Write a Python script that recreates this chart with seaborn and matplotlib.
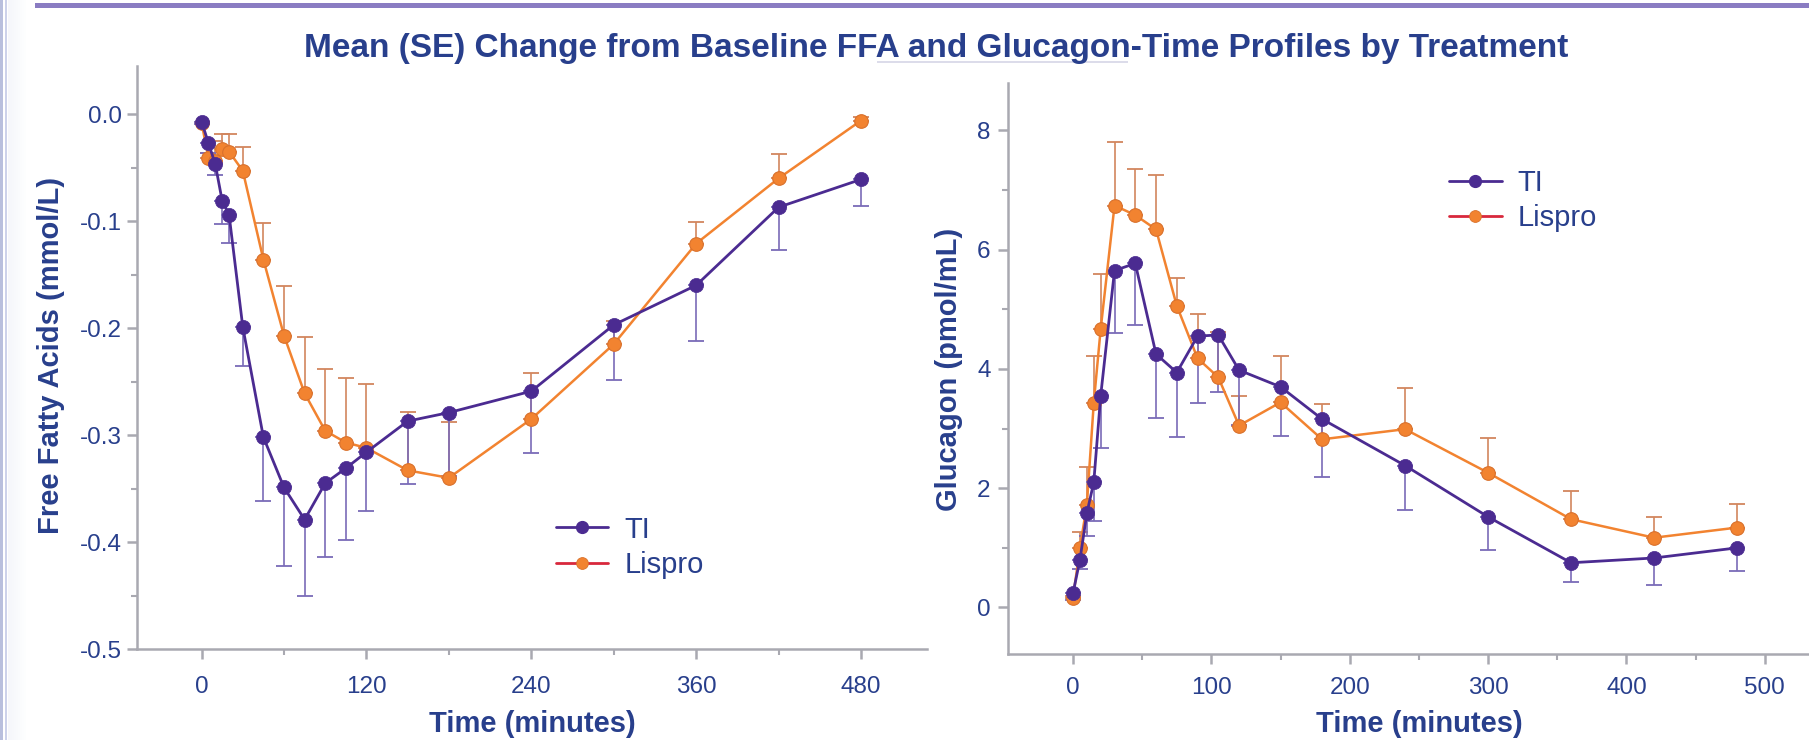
import numpy as np
import pandas as pd
import matplotlib
matplotlib.use("Agg")
import matplotlib.pyplot as plt
from matplotlib.lines import Line2D
from matplotlib.patches import Rectangle
from matplotlib.ticker import MultipleLocator
import seaborn as sns

# ---------------- data ----------------
times = [0, 5, 10, 15, 20, 30, 45, 60, 75, 90, 105, 120, 150, 180, 240, 300, 360, 420, 480]

ffa_ti = [-0.007, -0.027, -0.047, -0.081, -0.094, -0.199, -0.302, -0.349, -0.379, -0.345,
          -0.331, -0.316, -0.287, -0.279, -0.259, -0.197, -0.160, -0.087, -0.061]
ffa_ti_low = [-0.009, -0.036, -0.057, -0.103, -0.120, -0.235, -0.362, -0.422, -0.450, -0.414,
              -0.398, -0.371, -0.346, -0.338, -0.317, -0.249, -0.212, -0.127, -0.086]
ffa_lis = [-0.008, -0.041, -0.044, -0.033, -0.035, -0.053, -0.136, -0.207, -0.261, -0.296,
           -0.307, -0.312, -0.333, -0.340, -0.285, -0.215, -0.121, -0.060, -0.006]
ffa_lis_high = [-0.007, -0.036, -0.025, -0.019, -0.019, -0.031, -0.102, -0.161, -0.208, -0.238,
                -0.247, -0.252, -0.278, -0.288, -0.242, -0.193, -0.101, -0.037, -0.003]

glu_ti = [0.24, 0.80, 1.58, 2.10, 3.55, 5.65, 5.77, 4.25, 3.94, 4.55,
          4.57, 3.98, 3.70, 3.16, 2.38, 1.52, 0.75, 0.83, 1.00]
glu_ti_low = [0.13, 0.65, 1.20, 1.45, 2.68, 4.60, 4.73, 3.17, 2.86, 3.43,
              3.61, 3.06, 2.88, 2.18, 1.63, 0.96, 0.42, 0.38, 0.62]
glu_lis = [0.16, 1.00, 1.72, 3.43, 4.67, 6.74, 6.58, 6.34, 5.06, 4.18,
           3.86, 3.05, 3.44, 2.82, 2.99, 2.26, 1.48, 1.17, 1.34]
glu_lis_high = [0.20, 1.27, 2.35, 4.22, 5.60, 7.81, 7.35, 7.26, 5.53, 4.92,
                4.62, 3.54, 4.21, 3.41, 3.68, 2.85, 1.95, 1.51, 1.74]

treatments = ["TI", "Lispro"]
title = "Mean (SE) Change from Baseline FFA and Glucagon-Time Profiles by Treatment"
ffa_ylabel = "Free Fatty Acids (mmol/L)"
glu_ylabel = "Glucagon (pmol/mL)"
xlabel = "Time (minutes)"
ffa_xticks = [0, 120, 240, 360, 480]
ffa_yticks = [0.0, -0.1, -0.2, -0.3, -0.4, -0.5]
glu_xticks = [0, 100, 200, 300, 400, 500]
glu_yticks = [0, 2, 4, 6, 8]

# ---------------- style ----------------
sns.set_style("white")
plt.rcParams['font.family'] = ['Liberation Sans', 'DejaVu Sans']

TEXT = "#283f8c"
SPINE = "#a9a9b1"
PURPLE = "#4b2b91"
PURPLE_E = "#7a6bb8"
ORANGE = "#f28330"
ORANGE_EDGE = "#d9702b"
ORANGE_E = "#d2865e"
RED = "#d8283c"

W, H = 1809, 740
fig = plt.figure(figsize=(W / 100, H / 100), dpi=100)
fig.patch.set_facecolor("white")

# decorative slide elements
fig.add_artist(Rectangle((35 / W, 1 - 7.5 / H), 1 - 35 / W, 4.5 / H,
                         transform=fig.transFigure, color="#8a7cc2", lw=0))
fig.add_artist(Rectangle((0, 0), 2.5 / W, 1, transform=fig.transFigure, color="#b9bfdd", lw=0))
fig.add_artist(Rectangle((5 / W, 0), 2 / W, 1, transform=fig.transFigure, color="#cdd2ea", lw=0))
for i, a in enumerate(np.linspace(0.35, 0.0, 10)):
    fig.add_artist(Rectangle(((8 + i * 2) / W, 0), 2 / W, 1, transform=fig.transFigure,
                             color="#e3e6f3", alpha=a, lw=0))
# faint rule under the title
fig.add_artist(Rectangle((877 / W, 1 - 62.5 / H), (1128 - 877) / W, 1.2 / H,
                         transform=fig.transFigure, color="#dcdcea", lw=0))

fig.text(936 / W, 1 - 48 / H, title, ha="center", va="center", color=TEXT,
         fontsize=24, fontweight="bold")

ax1 = fig.add_axes([137 / W, 1 - 649 / H, (927 - 137) / W, (649 - 66) / H])
ax2 = fig.add_axes([1008 / W, 1 - 654 / H, (W - 1008) / W, (654 - 82.7) / H])


def draw(ax, ti, ti_low, lis, lis_high):
    ti = np.array(ti); lis = np.array(lis)
    t = np.array(times)
    # error bars (one-sided)
    ax.errorbar(t, lis, yerr=[np.zeros_like(lis), np.array(lis_high) - lis], fmt="none",
                ecolor=ORANGE_E, elinewidth=1.2, capsize=5.5, capthick=1.3, zorder=2)
    ax.errorbar(t, ti, yerr=[ti - np.array(ti_low), np.zeros_like(ti)], fmt="none",
                ecolor=PURPLE_E, elinewidth=1.2, capsize=5.5, capthick=1.3, zorder=2)
    sns.lineplot(x=t, y=lis, ax=ax, color=ORANGE, linewidth=1.8, marker="o", markersize=9.8,
                 markeredgecolor=ORANGE_EDGE, markeredgewidth=0.8, errorbar=None, zorder=3)
    sns.lineplot(x=t, y=ti, ax=ax, color=PURPLE, linewidth=2.0, marker="o", markersize=10.2,
                 markeredgecolor=PURPLE, markeredgewidth=0.5, errorbar=None, zorder=4)


def style(ax):
    sns.despine(ax=ax)
    for s in ["left", "bottom"]:
        ax.spines[s].set_color(SPINE)
        ax.spines[s].set_linewidth(1.8)
    ax.tick_params(which="both", bottom=True, left=True, direction="out")
    ax.tick_params(which="major", length=7.5, width=1.8, color=SPINE, labelcolor=TEXT)
    ax.tick_params(which="minor", length=4.5, width=1.5, color=SPINE)
    ax.tick_params(axis="y", labelsize=17.5)
    ax.tick_params(axis="x", labelsize=17.5)
    ax.set_facecolor("white")
    ax.grid(False)


draw(ax1, ffa_ti, ffa_ti_low, ffa_lis, ffa_lis_high)
style(ax1)
ax1.set_xlim(-47, 528)
ax1.set_ylim(-0.5, 0.045)
ax1.set_xticks(ffa_xticks)
ax1.xaxis.set_minor_locator(MultipleLocator(60))
ax1.set_yticks(ffa_yticks)
ax1.set_yticklabels([f"{v:.1f}" for v in ffa_yticks])
ax1.yaxis.set_minor_locator(MultipleLocator(0.05))
ax1.tick_params(axis="x", which="major", pad=12)
ax1.tick_params(axis="y", which="major", pad=3.5)
ax1.set_ylabel(ffa_ylabel, fontsize=21, fontweight="bold", color=TEXT)
ax1.yaxis.set_label_coords(-0.0911, 0.504)
ax1.set_xlabel(xlabel, fontsize=21, fontweight="bold", color=TEXT)
ax1.xaxis.set_label_coords(0.501, -0.104)

draw(ax2, glu_ti, glu_ti_low, glu_lis, glu_lis_high)
style(ax2)
ax2.set_xlim(-47, 532)
ax2.set_ylim(-0.78, 8.8)
ax2.set_xticks(glu_xticks)
ax2.xaxis.set_minor_locator(MultipleLocator(50))
ax2.set_yticks(glu_yticks)
ax2.yaxis.set_minor_locator(MultipleLocator(1))
ax2.tick_params(axis="x", which="major", pad=9)
ax2.tick_params(axis="y", which="major", pad=5)
ax2.set_ylabel(glu_ylabel, fontsize=21, fontweight="bold", color=TEXT)
ax2.yaxis.set_label_coords(-0.0562, 0.499)
ax2.set_xlabel(xlabel, fontsize=21, fontweight="bold", color=TEXT)
ax2.xaxis.set_label_coords(0.513, -0.0975)

handles = [
    Line2D([0], [0], color=PURPLE, lw=2, marker="o", markersize=8.5, markerfacecolor=PURPLE,
           markeredgecolor=PURPLE),
    Line2D([0], [0], color=RED, lw=2, marker="o", markersize=8.5, markerfacecolor=ORANGE,
           markeredgecolor=ORANGE_EDGE, markeredgewidth=0.6),
]
for ax, anchor in [(ax1, (0.530, 0.1746)), (ax2, (0.5506, 0.7938))]:
    leg = ax.legend(handles, treatments, loc="center left", bbox_to_anchor=anchor,
                    frameon=False, fontsize=21, handlelength=1.8, handletextpad=0.55,
                    labelspacing=0.25, borderpad=0, borderaxespad=0)
    for txt in leg.get_texts():
        txt.set_color(TEXT)

fig.savefig("out.png", dpi=100, facecolor="white")
